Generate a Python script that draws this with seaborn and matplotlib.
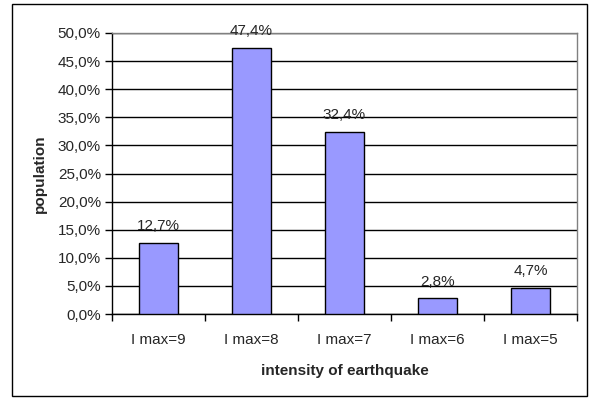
import pandas as pd
import numpy as np
from matplotlib import pyplot as plt
from matplotlib.ticker import FuncFormatter, FixedLocator
from matplotlib.patches import Rectangle
import seaborn as sns

# data
categories = ['I max=9', 'I max=8', 'I max=7', 'I max=6', 'I max=5']
population = [12.7, 47.4, 32.4, 2.8, 4.7]

df = pd.DataFrame({'intensity': categories, 'population': population})

sns.set_style('white')
plt.rcParams['font.family'] = ['Liberation Sans', 'DejaVu Sans']

fig = plt.figure(figsize=(5.92, 4.0), dpi=100)
ax = fig.add_axes([112/592, 1 - 314/400, (577 - 112)/592, (314 - 33)/400])

sns.barplot(data=df, x='intensity', y='population', color='#9999FF',
            saturation=1, width=0.42, edgecolor='black', linewidth=1, ax=ax, zorder=3)

ax.set_ylim(0, 50)
ax.set_xlim(-0.5, 4.5)
ax.set_yticks(np.arange(0, 50.1, 5))
ax.yaxis.set_major_formatter(FuncFormatter(lambda v, p: f'{v:.1f}%'.replace('.', ',')))
ax.yaxis.grid(True, color='black', linewidth=1)
ax.set_axisbelow(True)

# ticks at category boundaries, labels at centres
ax.xaxis.set_major_locator(FixedLocator(np.arange(-0.5, 4.6, 1)))
ax.xaxis.set_major_formatter(FuncFormatter(lambda v, p: ''))
ax.set_xticks(np.arange(0, 5), categories, minor=True)
ax.tick_params(axis='x', which='major', direction='out', length=5, width=1, color='black', bottom=True)
ax.tick_params(axis='x', which='minor', length=0, labelsize=11, pad=14, bottom=True)
ax.tick_params(axis='y', direction='out', length=5, width=1, color='black', labelsize=11, left=True, pad=3)

for s in ['left', 'bottom']:
    ax.spines[s].set_color('black')
    ax.spines[s].set_linewidth(1)
for s in ['top', 'right']:
    ax.spines[s].set_color('#808080')
    ax.spines[s].set_linewidth(1)
    ax.spines[s].set_visible(True)

for i, v in enumerate(population):
    ax.annotate(f'{v:.1f}%'.replace('.', ','), (i, v), xytext=(0, 7),
                textcoords='offset points', ha='center', va='bottom', fontsize=11)

ax.set_xlabel('intensity of earthquake', fontsize=11, fontweight='bold', labelpad=12)
ax.set_ylabel('population', fontsize=11, fontweight='bold', labelpad=8)

# outer chart frame
fig.patches.append(Rectangle((12/592, 4/400), (587 - 12)/592, (396 - 4)/400,
                             transform=fig.transFigure, fill=False,
                             edgecolor='black', linewidth=1))

fig.savefig('out.png', dpi=100)
